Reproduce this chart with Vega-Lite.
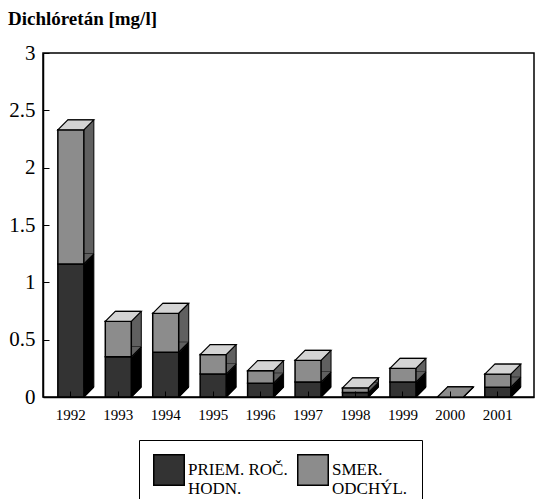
{
  "$schema": "https://vega.github.io/schema/vega-lite/v6.json",
  "width": 491,
  "height": 344,
  "autosize": "none",
  "padding": {"left": 43, "top": 53, "right": 1, "bottom": 102},
  "background": "white",
  "title": {
    "text": "Dichlóretán [mg/l]",
    "anchor": "start",
    "frame": "group",
    "dx": -35,
    "offset": 13,
    "font": "Liberation Serif",
    "fontSize": 19,
    "fontWeight": "bold",
    "color": "black"
  },
  "config": {
    "view": {"stroke": "black", "strokeWidth": 1.5},
    "axis": {"grid": false, "domainColor": "black", "tickColor": "black", "labelColor": "black", "labelFont": "Liberation Serif", "domainWidth": 1.5}
  },
  "data": {
    "values": [
      {"year": "1992", "series": "PRIEM. ROČ. HODN.", "ord": 1, "value": 1.16},
      {"year": "1992", "series": "SMER. ODCHÝL.", "ord": 2, "value": 1.17},
      {"year": "1993", "series": "PRIEM. ROČ. HODN.", "ord": 1, "value": 0.35},
      {"year": "1993", "series": "SMER. ODCHÝL.", "ord": 2, "value": 0.31},
      {"year": "1994", "series": "PRIEM. ROČ. HODN.", "ord": 1, "value": 0.39},
      {"year": "1994", "series": "SMER. ODCHÝL.", "ord": 2, "value": 0.34},
      {"year": "1995", "series": "PRIEM. ROČ. HODN.", "ord": 1, "value": 0.20},
      {"year": "1995", "series": "SMER. ODCHÝL.", "ord": 2, "value": 0.17},
      {"year": "1996", "series": "PRIEM. ROČ. HODN.", "ord": 1, "value": 0.12},
      {"year": "1996", "series": "SMER. ODCHÝL.", "ord": 2, "value": 0.11},
      {"year": "1997", "series": "PRIEM. ROČ. HODN.", "ord": 1, "value": 0.13},
      {"year": "1997", "series": "SMER. ODCHÝL.", "ord": 2, "value": 0.19},
      {"year": "1998", "series": "PRIEM. ROČ. HODN.", "ord": 1, "value": 0.04},
      {"year": "1998", "series": "SMER. ODCHÝL.", "ord": 2, "value": 0.04},
      {"year": "1999", "series": "PRIEM. ROČ. HODN.", "ord": 1, "value": 0.13},
      {"year": "1999", "series": "SMER. ODCHÝL.", "ord": 2, "value": 0.12},
      {"year": "2000", "series": "PRIEM. ROČ. HODN.", "ord": 1, "value": 0},
      {"year": "2000", "series": "SMER. ODCHÝL.", "ord": 2, "value": 0},
      {"year": "2001", "series": "PRIEM. ROČ. HODN.", "ord": 1, "value": 0.085},
      {"year": "2001", "series": "SMER. ODCHÝL.", "ord": 2, "value": 0.115}
    ]
  },
  "encoding": {
    "x": {
      "field": "year", "type": "nominal",
      "scale": {"paddingInner": 0.45, "paddingOuter": 0.4, "align": 0.39},
      "axis": {"title": null, "labelAngle": 0, "labelFontSize": 15, "tickSize": -6, "labelPadding": 16, "zindex": 2, "domain": true}
    }
  },
  "layer": [
    {
      "mark": {"type": "bar", "width": 26, "xOffset": 10, "yOffset": -10, "y2Offset": -10, "stroke": "black", "strokeWidth": 1},
      "encoding": {
        "y": {"field": "value", "type": "quantitative", "stack": "zero"},
        "detail": {"field": "series"},
        "order": {"field": "ord"},
        "fill": {"condition": {"test": "datum.series === 'SMER. ODCHÝL.'", "value": "#606060"}, "value": "#000000"}
      }
    },
    {
      "transform": [{"stack": "value", "groupby": ["year"], "sort": [{"field": "ord"}], "as": ["v0", "v1"]}],
      "mark": {"type": "point", "shape": "M1,0.05 L1,-0.769 L1.8,-0.769 Z", "size": 676, "filled": true, "opacity": 1, "strokeWidth": 0},
      "encoding": {
        "y": {"field": "v0", "type": "quantitative"},
        "fill": {"condition": {"test": "datum.series === 'SMER. ODCHÝL.'", "value": "#606060"}, "value": "#000000"}
      }
    },
    {
      "mark": {"type": "bar", "width": 26, "stroke": "black", "strokeWidth": 1.5},
      "encoding": {
        "y": {
          "field": "value", "type": "quantitative", "stack": "zero",
          "scale": {"domain": [0, 3], "nice": false},
          "axis": {
            "title": null,
            "values": [0, 0.25, 0.5, 0.75, 1, 1.25, 1.5, 1.75, 2, 2.25, 2.5, 2.75, 3],
            "labelExpr": "(datum.value * 2) % 1 === 0 ? format(datum.value, '~g') : ''",
            "labelFontSize": 21,
            "tickSize": -6,
            "labelPadding": 14,
            "zindex": 2
          }
        },
        "order": {"field": "ord"},
        "color": {
          "field": "series", "type": "nominal",
          "scale": {"domain": ["PRIEM. ROČ. HODN.", "SMER. ODCHÝL."], "range": ["#333333", "#8c8c8c"]},
          "legend": {
            "title": null,
            "orient": "none",
            "legendX": 96,
            "legendY": 387,
            "direction": "horizontal",
            "strokeColor": "black",
            "padding": 14,
            "symbolType": "square",
            "symbolSize": 930,
            "symbolStrokeColor": "black",
            "symbolStrokeWidth": 1.5,
            "symbolOpacity": 1,
            "labelFont": "Liberation Serif",
            "labelFontSize": 17,
            "labelColor": "black",
            "labelLimit": 200,
            "labelExpr": "datum.label === 'PRIEM. ROČ. HODN.' ? ['PRIEM. ROČ.', 'HODN.'] : ['SMER.', 'ODCHÝL.']",
            "columnPadding": 6,
            "labelOffset": 3
          }
        }
      }
    },
    {
      "transform": [{"stack": "value", "groupby": ["year"], "sort": [{"field": "ord"}], "as": ["v0", "v1"]}],
      "mark": {"type": "point", "shape": "M1,0 L1.769,-0.769", "size": 676, "filled": false, "opacity": 1, "stroke": "black", "strokeWidth": 1.2},
      "encoding": {
        "y": {"field": "v0", "type": "quantitative"}
      }
    },
    {
      "transform": [{"aggregate": [{"op": "sum", "field": "value", "as": "total"}], "groupby": ["year"]}],
      "mark": {"type": "point", "shape": "M-1,0 L1,0 L1.769,-0.769 L-0.231,-0.769 Z", "size": 676, "filled": true, "stroke": "black", "strokeWidth": 1.2, "opacity": 1, "fillOpacity": 1, "strokeOpacity": 1},
      "encoding": {
        "y": {"field": "total", "type": "quantitative"},
        "fill": {"condition": {"test": "datum.total === 0", "value": "#8c8c8c"}, "value": "#d4d4d4"}
      }
    }
  ]
}
